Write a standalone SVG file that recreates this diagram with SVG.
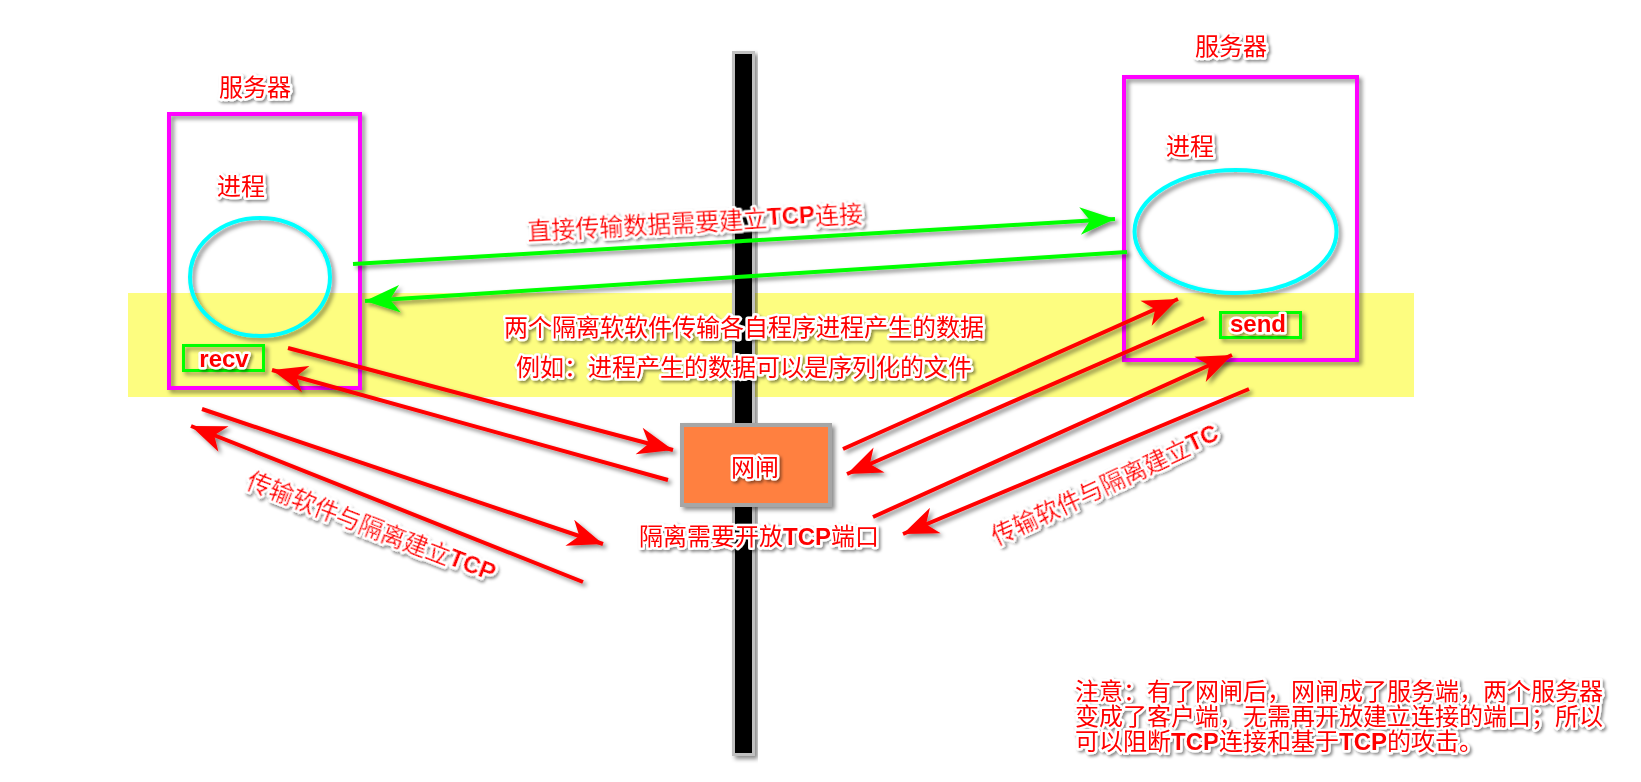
<svg xmlns="http://www.w3.org/2000/svg" width="1641" height="782" viewBox="0 0 1641 782">
<defs>
<filter id="sh" x="-20%" y="-20%" width="140%" height="140%">
<feDropShadow dx="3" dy="3" stdDeviation="2" flood-color="#000" flood-opacity="0.45"/>
</filter>
<filter id="tsh" x="-10%" y="-30%" width="120%" height="160%">
<feDropShadow dx="2" dy="2" stdDeviation="1.5" flood-color="#000" flood-opacity="0.45"/>
</filter>
<marker id="ar" markerUnits="userSpaceOnUse" markerWidth="40" markerHeight="30" viewBox="-30 -12 32 24" refX="0" refY="0" orient="auto">
<path d="M0,0 L-28,-11 L-20,0 L-28,11 Z" fill="#FF0000"/>
</marker>
<marker id="ag" markerUnits="userSpaceOnUse" markerWidth="40" markerHeight="30" viewBox="-30 -12 32 24" refX="0" refY="0" orient="auto">
<path d="M0,0 L-28,-11 L-20,0 L-28,11 Z" fill="#00FF00"/>
</marker>
</defs>
<style>
.t{font-family:"Noto Sans CJK SC","Liberation Sans",sans-serif;font-size:24px;fill:#FF0000;stroke:#FFFFFF;stroke-width:5px;stroke-linejoin:round;paint-order:stroke;filter:url(#tsh)}
.b{font-family:"Liberation Sans",Arial,sans-serif;font-weight:bold}
.srv{fill:none;stroke:#FF00FF;stroke-width:4}
.proc{fill:none;stroke:#00FFFF;stroke-width:4}
.port{fill:none;stroke:#00FF00;stroke-width:3}
.red{stroke:#FF0000;stroke-width:4;fill:none;marker-end:url(#ar)}
.grn{stroke:#00FF00;stroke-width:4;fill:none;marker-end:url(#ag)}
</style>
<rect width="1641" height="782" fill="#FFFFFF"/>
<rect id="band" x="128" y="293" width="1286" height="104" fill="#FDFD80"/>
<g id="pole" filter="url(#sh)">
<rect x="733.5" y="52.5" width="20" height="702" fill="#000000" stroke="#C0C0C0" stroke-width="3"/>
</g>
<g id="server-left" filter="url(#sh)">
<rect class="srv" x="169" y="114" width="191" height="274"/>
<ellipse class="proc" cx="260" cy="277" rx="70" ry="59"/>
<rect class="port" x="183.5" y="345.5" width="80" height="25"/>
</g>
<g id="server-right" filter="url(#sh)">
<rect class="srv" x="1124" y="77" width="233" height="283"/>
<ellipse class="proc" cx="1235.5" cy="231.5" rx="101" ry="61.5"/>
<rect class="port" x="1220.5" y="312.5" width="80" height="25"/>
</g>
<g id="gateway" filter="url(#sh)">
<rect x="682" y="425" width="148" height="80" fill="#FF8040" stroke="#A6A6A6" stroke-width="4"/>
</g>
<g id="connectors" filter="url(#sh)">
<line class="grn" x1="353" y1="264" x2="1115" y2="219"/>
<line class="grn" x1="1127" y1="252" x2="365" y2="301"/>
<line class="red" x1="288" y1="348" x2="673" y2="450"/>
<line class="red" x1="668" y1="480" x2="272" y2="370"/>
<line class="red" x1="202" y1="409" x2="603" y2="544"/>
<line class="red" x1="583" y1="582" x2="191" y2="426"/>
<line class="red" x1="843" y1="449" x2="1178" y2="299"/>
<line class="red" x1="1204" y1="318" x2="847" y2="474"/>
<line class="red" x1="873" y1="517" x2="1232" y2="355"/>
<line class="red" x1="1249" y1="389" x2="903" y2="534"/>
</g>
<g id="labels">
<text class="t" x="255" y="96" text-anchor="middle">服务器</text>
<text class="t" x="217" y="195">进程</text>
<text class="t b" x="224" y="367" text-anchor="middle" font-size="22">recv</text>
<text class="t" x="1231" y="55" text-anchor="middle">服务器</text>
<text class="t" x="1166" y="155">进程</text>
<text class="t b" x="1258" y="332" text-anchor="middle" font-size="21">send</text>
<text class="t" x="755" y="476" text-anchor="middle">网闸</text>
<text class="t" x="759" y="545" text-anchor="middle">隔离需要开放<tspan class="b">TCP</tspan>端口</text>
<text class="t" x="744" y="336" text-anchor="middle">两个隔离软软件传输各自程序进程产生的数据</text>
<text class="t" x="744" y="376" text-anchor="middle">例如：进程产生的数据可以是序列化的文件</text>
<text class="t" text-anchor="middle" dominant-baseline="central" transform="translate(695,220) rotate(-3)">直接传输数据需要建立<tspan class="b">TCP</tspan>连接</text>
<text class="t" text-anchor="middle" dominant-baseline="central" transform="translate(372,525) rotate(21.3)">传输软件与隔离建立<tspan class="b">TCP</tspan></text>
<text class="t" text-anchor="middle" dominant-baseline="central" transform="translate(1104,483) rotate(-25)">传输软件与隔离建立<tspan class="b">TC</tspan></text>
<text class="t" x="1075" y="700">注意：有了网闸后，网闸成了服务端，两个服务器</text>
<text class="t" x="1075" y="725">变成了客户端，无需再开放建立连接的端口；所以</text>
<text class="t" x="1075" y="750">可以阻断<tspan class="b">TCP</tspan>连接和基于<tspan class="b">TCP</tspan>的攻击。</text>
</g>
</svg>
